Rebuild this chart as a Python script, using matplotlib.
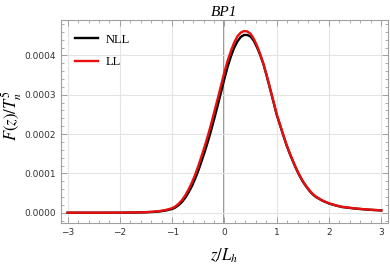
# F(z)/T_n^5 profile for BP1, NLL vs LL

import matplotlib.pyplot as plt
from matplotlib.ticker import MultipleLocator

plt.rcParams["mathtext.fontset"] = "stix"

# values
z = [-3.0, -2.5, -2.0, -1.75, -1.5, -1.375, -1.25, -1.125,
     -1.0, -0.9375, -0.875, -0.8125, -0.75, -0.6875, -0.625, -0.5625,
     -0.5, -0.4375, -0.375, -0.3125, -0.25, -0.1875, -0.125, -0.0625,
     0.0, 0.0625, 0.125, 0.1875, 0.25, 0.3125, 0.375, 0.4375,
     0.5, 0.5625, 0.625, 0.6875, 0.75, 0.8125, 0.875, 0.9375,
     1.0, 1.0625, 1.125, 1.1875, 1.25, 1.3125, 1.375, 1.4375,
     1.5, 1.5625, 1.625, 1.6875, 1.75, 1.875, 2.0, 2.125,
     2.25, 2.5, 2.75, 3.0]
f_ll = [0.0, 0.0, 2e-7, 6e-7, 1.5e-6, 2.5e-6, 4e-6, 7e-6,
        1.15e-5, 1.6e-5, 2.3e-5, 3.2e-5, 4.4e-5, 5.9e-5, 7.6e-5, 9.6e-5,
        1.19e-4, 1.44e-4, 1.70e-4, 1.98e-4, 2.28e-4, 2.60e-4, 2.92e-4, 3.25e-4,
        3.58e-4, 3.87e-4, 4.12e-4, 4.33e-4, 4.49e-4, 4.58e-4, 4.62e-4, 4.61e-4,
        4.55e-4, 4.42e-4, 4.24e-4, 4.02e-4, 3.77e-4, 3.47e-4, 3.15e-4, 2.83e-4,
        2.50e-4, 2.24e-4, 1.98e-4, 1.73e-4, 1.51e-4, 1.31e-4, 1.12e-4, 9.5e-5,
        8.0e-5, 6.8e-5, 5.7e-5, 4.8e-5, 4.1e-5, 3.1e-5, 2.4e-5, 1.9e-5,
        1.5e-5, 1.1e-5, 8e-6, 6e-6]
f_nll = [0.0, 0.0, 1e-7, 4e-7, 1.1e-6, 1.9e-6, 3.1e-6, 5.6e-6,
         9.5e-6, 1.35e-5, 1.95e-5, 2.75e-5, 3.8e-5, 5.15e-5, 6.7e-5, 8.6e-5,
         1.07e-4, 1.31e-4, 1.56e-4, 1.83e-4, 2.12e-4, 2.43e-4, 2.75e-4, 3.08e-4,
         3.41e-4, 3.72e-4, 3.98e-4, 4.20e-4, 4.36e-4, 4.47e-4, 4.52e-4, 4.52e-4,
         4.48e-4, 4.37e-4, 4.20e-4, 4.00e-4, 3.76e-4, 3.46e-4, 3.14e-4, 2.82e-4,
         2.49e-4, 2.23e-4, 1.97e-4, 1.72e-4, 1.50e-4, 1.30e-4, 1.11e-4, 9.4e-5,
         7.9e-5, 6.7e-5, 5.6e-5, 4.7e-5, 4.0e-5, 3.05e-5, 2.35e-5, 1.85e-5,
         1.45e-5, 1.05e-5, 7.7e-6, 5.8e-6]

fig = plt.figure(figsize=(3.9, 2.67), dpi=100)
ax = fig.add_axes([0.156, 0.165, 0.839, 0.76])

ax.axvline(0, color="#8c8c8c", lw=1.3, zorder=1)
ax.plot(z, f_nll, color="black", lw=1.7, label="NLL", zorder=3)
ax.plot(z, f_ll, color="#e8100f", lw=1.7, label="LL", zorder=4)

ax.set_xlim(-3.13, 3.13)
ax.set_ylim(-0.000026, 0.00049)
ax.xaxis.set_major_locator(MultipleLocator(1))
ax.xaxis.set_minor_locator(MultipleLocator(0.2))
ax.yaxis.set_major_locator(MultipleLocator(0.0001))
ax.yaxis.set_minor_locator(MultipleLocator(0.00002))
ax.yaxis.set_major_formatter(plt.FuncFormatter(lambda v, p: f"{v:.4f}"))

ax.grid(True, which="major", color="#e4e4e4", lw=0.8, zorder=0)
for s in ax.spines.values():
    s.set_color("#a0a0a0")
    s.set_linewidth(0.8)
ax.tick_params(which="both", direction="in", top=True, right=True,
               colors="#a0a0a0", labelcolor="#333333", labelsize=6.5)
ax.tick_params(which="major", length=4, width=0.7)
ax.tick_params(which="minor", length=2, width=0.6)

ax.set_title("BP1", family="Liberation Serif", style="italic", fontsize=11, pad=3)
ax.set_xlabel(r"$z/L_h$", fontsize=12, labelpad=7)
ax.set_ylabel(r"$F(z)/T_n^5$", fontsize=12)
ax.yaxis.set_label_coords(-0.114, 0.53)

ax.legend(loc="upper left", frameon=False, handlelength=1.9, handletextpad=0.6,
          prop={"family": "Liberation Serif", "size": 9},
          borderaxespad=0.7, labelspacing=0.85)

fig.savefig("out.png", dpi=100)
